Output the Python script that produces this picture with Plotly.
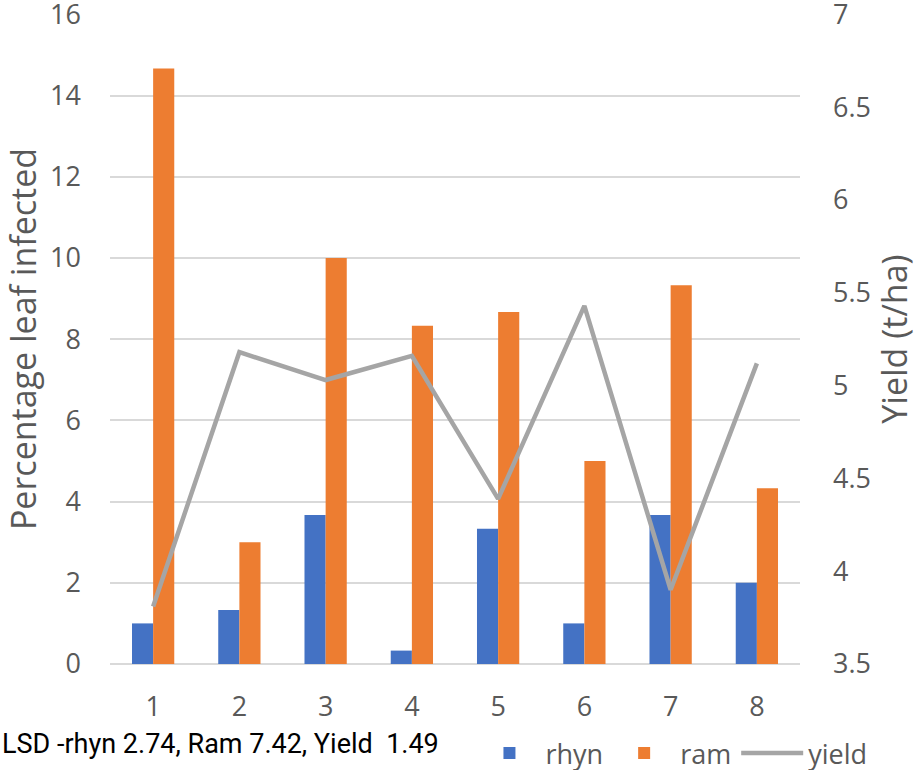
import plotly.graph_objects as go

categories = ["1", "2", "3", "4", "5", "6", "7", "8"]
rhyn = [1.0, 1.33, 3.67, 0.33, 3.33, 1.0, 3.67, 2.0]
ram = [14.67, 3.0, 10.0, 8.33, 8.67, 5.0, 9.33, 4.33]
yield_t = [3.81, 5.18, 5.03, 5.16, 4.39, 5.43, 3.90, 5.12]

left_ticks = [0, 2, 4, 6, 8, 10, 12, 14, 16]
right_ticks = [3.5, 4, 4.5, 5, 5.5, 6, 6.5, 7]
note = "LSD -rhyn 2.74, Ram 7.42, Yield  1.49"

FONT = "Open Sans"
GREY = "#595959"
EPS = 0.01

fig = go.Figure()
fig.add_trace(go.Bar(x=categories, y=rhyn, name="rhyn", marker_color="#4472C4",
                     marker_line_width=0))
fig.add_trace(go.Bar(x=categories, y=ram, name="ram", marker_color="#ED7D31",
                     marker_line_width=0))
fig.add_trace(go.Scatter(x=categories, y=yield_t, name="yield", mode="lines",
                         line=dict(color="#A5A5A5", width=4.5), yaxis="y2"))

fig.update_layout(
    width=922, height=770,
    margin=dict(l=110, r=122, t=14, b=106, autoexpand=False),
    paper_bgcolor="white", plot_bgcolor="white",
    font=dict(family=FONT, color=GREY, size=27),
    barmode="group", bargap=0.51, bargroupgap=0,
    showlegend=True,
    legend=dict(orientation="h", x=1.105, xanchor="right", y=-0.1, yanchor="top",
                font=dict(size=27, color=GREY, family=FONT),
                itemwidth=62, tracegroupgap=0, traceorder="normal"),
    xaxis=dict(type="category", range=[-0.5, 7.5], showgrid=False,
               showline=False, zeroline=False, ticks="", automargin=False,
               ticklabelstandoff=24, tickfont=dict(size=27, color=GREY)),
    yaxis=dict(range=[0, 16 + EPS], tickvals=left_ticks, showgrid=True,
               gridcolor="#D9D9D9", gridwidth=1.5, zeroline=True,
               zerolinecolor="#D9D9D9", zerolinewidth=1.5, automargin=False,
               ticklabeloverflow="allow",
               ticklabelstandoff=28, tickfont=dict(size=27, color=GREY),
               title=dict(text="Percentage leaf infected", standoff=14,
                          font=dict(size=34, color=GREY))),
    yaxis2=dict(range=[3.5, 7 + EPS * 3.5 / 16], tickvals=right_ticks,
                overlaying="y", side="right", automargin=False,
                ticklabeloverflow="allow",
                showgrid=False, zeroline=False, ticklabelstandoff=32,
                tickfont=dict(size=27, color=GREY),
                title=dict(text="Yield (t/ha)", standoff=10,
                           font=dict(size=34, color=GREY))),
    annotations=[dict(text=note, xref="paper", yref="paper", x=-0.1594, y=-0.123,
                      xanchor="left", yanchor="middle", showarrow=False,
                      font=dict(size=27, color="black", family="Roboto"))],
)

fig.write_html("out.html", config={"displayModeBar": False},
               post_script="document.body.style.margin='0';")
